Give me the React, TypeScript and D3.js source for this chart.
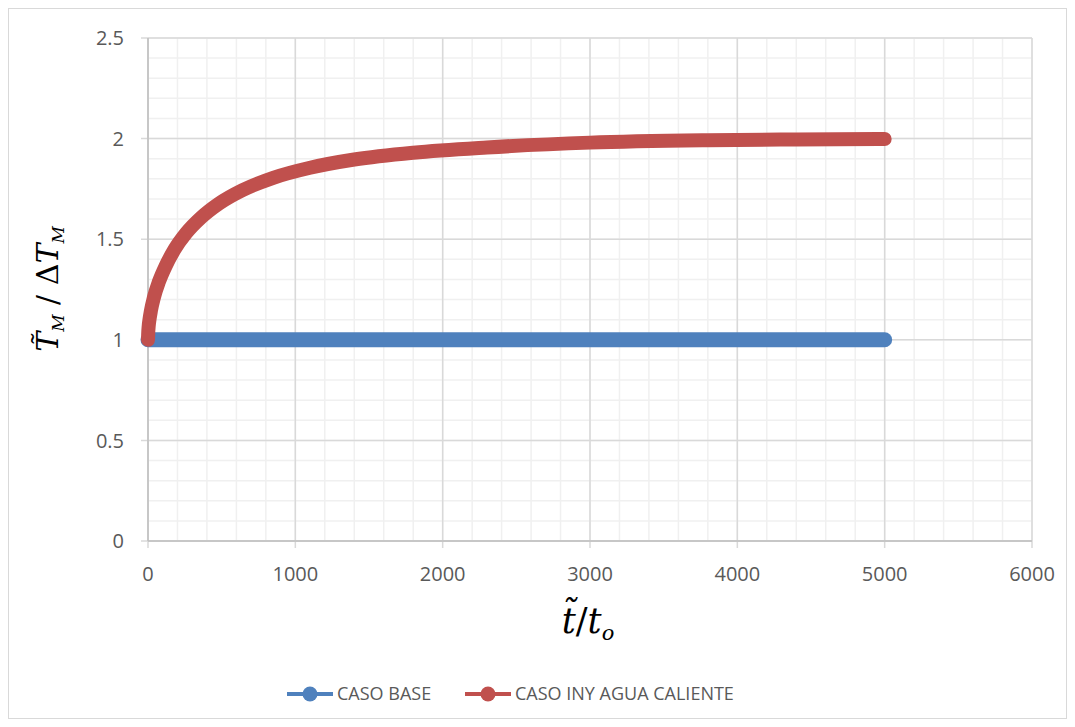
import React from "react";
import * as d3 from "d3";

const xTicks = [0, 1000, 2000, 3000, 4000, 5000, 6000];
const yTicks = [0, 0.5, 1, 1.5, 2, 2.5];

const baseX = [0, 1000, 2000, 3000, 4000, 5000];
const baseY = [1, 1, 1, 1, 1, 1];

const hotX = [0, 1, 5, 10, 20, 40, 75, 120, 180, 260, 360, 480, 640, 850, 1100, 1400, 1800, 2300, 3000, 3800, 4400, 5000];
const hotY = [1, 1.025, 1.07, 1.1, 1.145, 1.21, 1.29, 1.367, 1.449, 1.531, 1.607, 1.676, 1.743, 1.805, 1.855, 1.896, 1.93, 1.956, 1.98, 1.992, 1.996, 1.998];

const seriesNames = ["CASO BASE", "CASO INY AGUA CALIENTE"];
const colors = ["#4F81BD", "#C0504D"];

export default function App() {
  const W = 1075, H = 727;
  const left = 148, right = 1032, top = 38, bottom = 541;
  const x = d3.scaleLinear().domain([0, 6000]).range([left, right]);
  const y = d3.scaleLinear().domain([0, 2.5]).range([bottom, top]);
  const minorX = d3.range(0, 6001, 200);
  const minorY = d3.range(0, 2.501, 0.1);
  const line = d3.line<[number, number]>().x(d => x(d[0])).y(d => y(d[1])).curve(d3.curveMonotoneX);
  const basePts = baseX.map((v, i) => [v, baseY[i]] as [number, number]);
  const hotPts = hotX.map((v, i) => [v, hotY[i]] as [number, number]);
  const labelFont = "'Open Sans', 'Noto Sans', sans-serif";
  const mathFont = "'DejaVu Serif', 'Liberation Serif', serif";
  return (
    <svg width={W} height={H} style={{ position: "absolute", left: 0, top: 0, background: "#fff" }}>
      <rect x={8.5} y={8.5} width={1058} height={710} fill="#fff" stroke="#d9d9d9" />
      {minorX.map(v => (
        <line key={"mx" + v} x1={x(v)} x2={x(v)} y1={top} y2={bottom} stroke="#f0f0f0" strokeWidth={1.5} />
      ))}
      {minorY.map(v => (
        <line key={"my" + v} x1={left} x2={right} y1={y(v)} y2={y(v)} stroke="#f0f0f0" strokeWidth={1.5} />
      ))}
      {xTicks.map(v => (
        <line key={"gx" + v} x1={x(v)} x2={x(v)} y1={top} y2={bottom + 7} stroke="#d9d9d9" strokeWidth={1.5} />
      ))}
      {yTicks.map(v => (
        <line key={"gy" + v} x1={left - 7} x2={right} y1={y(v)} y2={y(v)} stroke="#d9d9d9" strokeWidth={1.5} />
      ))}
      <line x1={left} x2={left} y1={top} y2={bottom} stroke="#bfbfbf" strokeWidth={1.5} />
      <line x1={left} x2={right} y1={bottom} y2={bottom} stroke="#bfbfbf" strokeWidth={1.5} />
      {yTicks.map(v => (
        <text key={"ty" + v} x={124} y={y(v)} dy="0.36em" textAnchor="end" fontSize={20} fill="#595959" fontFamily={labelFont}>{v}</text>
      ))}
      {xTicks.map(v => (
        <text key={"tx" + v} x={x(v)} y={581} textAnchor="middle" fontSize={20} fill="#595959" fontFamily={labelFont}>{v}</text>
      ))}
      <path d={line(basePts) || ""} fill="none" stroke={colors[0]} strokeWidth={15} strokeLinecap="round" strokeLinejoin="round" />
      <path d={line(hotPts) || ""} fill="none" stroke={colors[1]} strokeWidth={14} strokeLinecap="round" strokeLinejoin="round" />
      <text transform="translate(58,289) rotate(-90)" textAnchor="middle" fontFamily={mathFont} fontSize={30} fill="#000">
        <tspan fontStyle="italic">{"T\u0303"}</tspan>
        <tspan fontStyle="italic" fontSize={17} dy={6}>M</tspan>
        <tspan dy={-6}>{" / Δ"}</tspan>
        <tspan fontStyle="italic">T</tspan>
        <tspan fontStyle="italic" fontSize={17} dy={6}>M</tspan>
      </text>
      <text x={588} y={633} textAnchor="middle" fontFamily={mathFont} fontSize={35} fill="#000">
        <tspan fontStyle="italic">{"t\u0303"}</tspan>
        <tspan>/</tspan>
        <tspan fontStyle="italic">t</tspan>
        <tspan fontStyle="italic" fontSize={21} dy={7}>o</tspan>
      </text>
      {seriesNames.map((name, i) => {
        const lx = i === 0 ? 287 : 465;
        return (
          <g key={name}>
            <line x1={lx} x2={lx + 46} y1={694} y2={694} stroke={colors[i]} strokeWidth={4} />
            <circle cx={lx + 23} cy={694} r={7.5} fill={colors[i]} />
            <text x={lx + 50} y={694} dy="0.36em" fontSize={18} fill="#595959" fontFamily={labelFont}>{name}</text>
          </g>
        );
      })}
    </svg>
  );
}
